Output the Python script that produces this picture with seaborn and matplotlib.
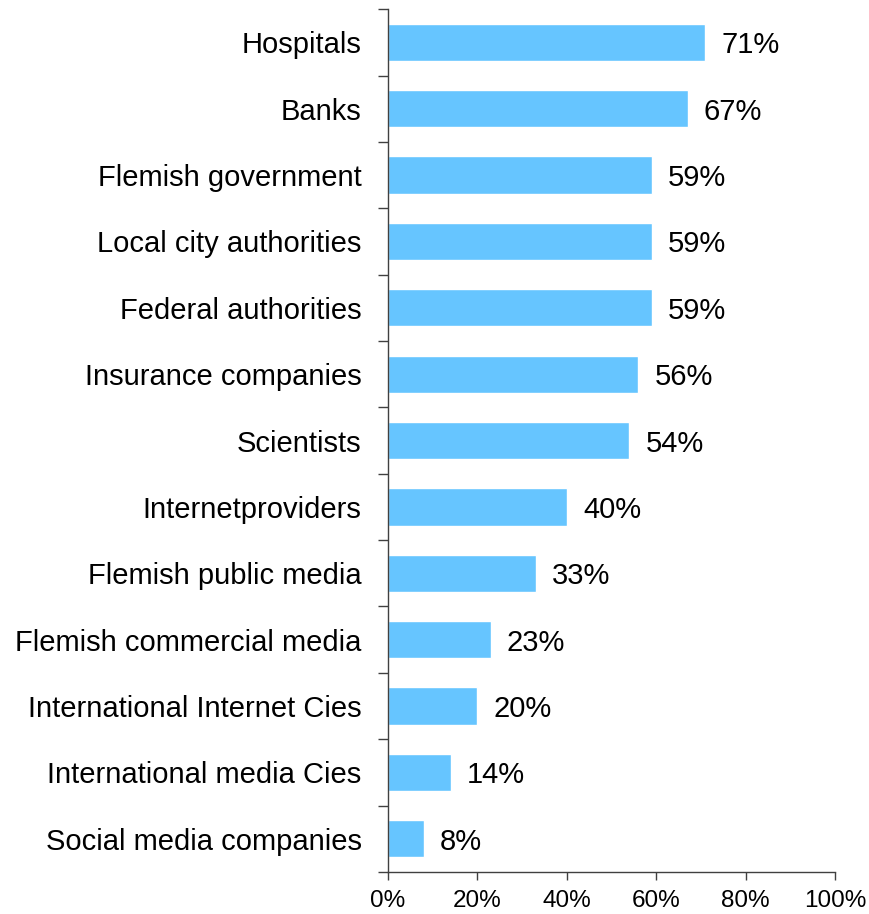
import numpy as np
import pandas as pd
import matplotlib.pyplot as plt
from matplotlib.ticker import FixedLocator, PercentFormatter
import seaborn as sns

categories = ['Hospitals', 'Banks', 'Flemish government', 'Local city authorities',
              'Federal authorities', 'Insurance companies', 'Scientists',
              'Internetproviders', 'Flemish public media', 'Flemish commercial media',
              'International Internet Cies', 'International media Cies',
              'Social media companies']
values = [71, 67, 59, 59, 59, 56, 54, 40, 33, 23, 20, 14, 8]
xticks = [0, 20, 40, 60, 80, 100]

df = pd.DataFrame({'category': categories, 'value': values})

sns.set_style('white')
plt.rcParams['font.family'] = ['Liberation Sans', 'DejaVu Sans']

fig = plt.figure(figsize=(8.69, 9.14), dpi=100)
ax = fig.add_axes([0.4465, 0.046, 0.5145, 0.944])

sns.barplot(data=df, x='value', y='category', orient='h', color='#66C5FF',
            saturation=1, width=0.56, ax=ax)

# value labels next to each bar
for i, v in enumerate(values):
    ax.text(v + 3.6, i, f'{v}%', va='center_baseline', ha='left', fontsize=21,
            color='black')

ax.set_xlim(0, 100)
ax.set_ylim(len(categories) - 0.5, -0.5)
ax.set_xticks(xticks)
ax.xaxis.set_major_formatter(PercentFormatter(decimals=0))
ax.yaxis.set_minor_locator(FixedLocator(np.arange(-0.5, len(categories), 1)))
ax.tick_params(axis='y', which='major', length=0, pad=19, labelsize=21,
               labelcolor='black')
ax.tick_params(axis='y', which='minor', length=7, width=1, color='#404040', left=True)
ax.tick_params(axis='x', which='major', length=6, width=1, color='#404040',
               bottom=True, pad=7, labelsize=17.5, labelcolor='black')
ax.set_xlabel('')
ax.set_ylabel('')
for side in ['top', 'right']:
    ax.spines[side].set_visible(False)
for side in ['left', 'bottom']:
    ax.spines[side].set_color('#404040')
    ax.spines[side].set_linewidth(1)

fig.savefig('out.png', dpi=100)
